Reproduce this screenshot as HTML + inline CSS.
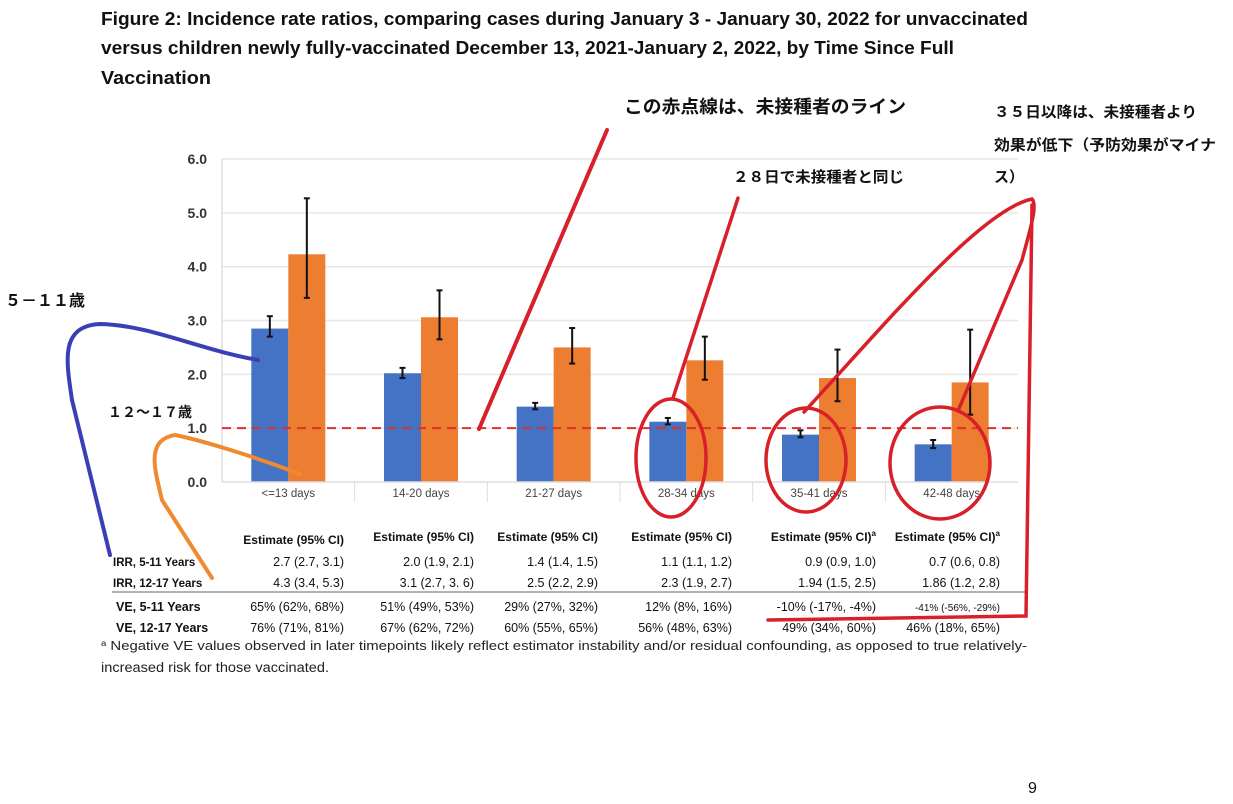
<!DOCTYPE html>
<html><head><meta charset="utf-8"><style>
body{margin:0;background:#fff;}
svg{display:block;font-family:"Liberation Sans","Noto Sans CJK JP",sans-serif;}
</style></head><body>
<svg id="chart" width="1233" height="804" viewBox="0 0 1233 804">
<g font-weight="bold" font-size="18.5" fill="#111">
<text x="101" y="25" textLength="927" lengthAdjust="spacingAndGlyphs">Figure 2:  Incidence rate ratios, comparing cases during January 3 - January 30, 2022 for unvaccinated</text>
<text x="101" y="54" textLength="853" lengthAdjust="spacingAndGlyphs">versus children newly fully-vaccinated December 13, 2021-January 2, 2022, by Time Since Full</text>
<text x="101" y="84" textLength="110" lengthAdjust="spacingAndGlyphs">Vaccination</text>
</g>
<g id="grid"></g>
<g id="yaxis"></g>
<g id="bars"></g>
<g id="xaxis"></g>
<line id="refline" stroke="#e0302a" stroke-width="2" stroke-dasharray="9,6"/>
<g id="table" font-size="12" fill="#111"></g>
<g font-size="12.5" fill="#222">
<text x="101" y="650" textLength="926" lengthAdjust="spacingAndGlyphs"><tspan font-size="8" dy="-4">a</tspan><tspan dy="4"> Negative VE values observed in later timepoints likely reflect estimator instability and/or residual confounding, as opposed to true relatively-</tspan></text>
<text x="101" y="672" font-size="13.5" textLength="228" lengthAdjust="spacingAndGlyphs">increased risk for those vaccinated.</text>
</g>
<text x="1028" y="793" font-size="16" fill="#111">9</text>
<g font-weight="bold" font-size="15" fill="#111">
<text x="624" y="113" font-size="18" textLength="282" lengthAdjust="spacingAndGlyphs">この赤点線は、未接種者のライン</text>
<text x="994" y="117" font-size="15" textLength="203" lengthAdjust="spacingAndGlyphs">３５日以降は、未接種者より</text>
<text x="994" y="150" font-size="15" textLength="222" lengthAdjust="spacingAndGlyphs">効果が低下（予防効果がマイナ</text>
<text x="994" y="182" font-size="15">ス）</text>
<text x="733" y="182" font-size="15" textLength="171" lengthAdjust="spacingAndGlyphs">２８日で未接種者と同じ</text>
<text x="5" y="306" font-size="16">５－１１歳</text>
<text x="108" y="417" font-size="14">１２～１７歳</text>
</g>
<g fill="none" stroke-linecap="round">
<path d="M607 130 L479 429" stroke="#d8202a" stroke-width="4"/>
<path d="M738 198 L673 398" stroke="#d8202a" stroke-width="3.5"/>
<ellipse cx="671" cy="458" rx="35" ry="59" stroke="#d8202a" stroke-width="3.5"/>
<ellipse cx="806" cy="460" rx="40" ry="52" stroke="#d8202a" stroke-width="3.5"/>
<ellipse cx="940" cy="463" rx="50" ry="56" stroke="#d8202a" stroke-width="3.5"/>
<path d="M804 412 C880 330 980 210 1032 199 C1038 205 1030 230 1022 260 L958 411" stroke="#d8202a" stroke-width="3.5"/>
<path d="M1032 205 L1026 616 L768 620" stroke="#d8202a" stroke-width="3.5"/>
<path d="M258 360 C200 350 150 325 100 324 C60 326 66 360 72 400 L110 555" stroke="#3b3fb5" stroke-width="4"/>
<path d="M300 474 C250 455 200 440 175 435 C145 440 155 470 162 500 L212 578" stroke="#f08a30" stroke-width="4"/>
</g>
</svg>
<script>
const categories = ["<=13 days","14-20 days","21-27 days","28-34 days","35-41 days","42-48 days"];
const blueValues = [2.85,2.02,1.40,1.12,0.88,0.70];
const blueLow = [2.70,1.93,1.35,1.07,0.83,0.63];
const blueHigh = [3.08,2.12,1.47,1.19,0.96,0.78];
const orangeValues = [4.23,3.06,2.50,2.26,1.93,1.85];
const orangeLow = [3.42,2.65,2.20,1.90,1.50,1.25];
const orangeHigh = [5.27,3.56,2.86,2.70,2.46,2.83];
const yTicks = [0,1,2,3,4,5,6];
const yTickLabels = ["0.0","1.0","2.0","3.0","4.0","5.0","6.0"];
const refValue = 1.0;
const rowLabels = ["IRR, 5-11 Years","IRR, 12-17 Years","VE, 5-11 Years","VE, 12-17 Years"];
const headers = ["Estimate (95% CI)","Estimate (95% CI)","Estimate (95% CI)","Estimate (95% CI)","Estimate (95% CI)a","Estimate (95% CI)a"];
const row1 = ["2.7 (2.7, 3.1)","2.0 (1.9, 2.1)","1.4 (1.4, 1.5)","1.1 (1.1, 1.2)","0.9 (0.9, 1.0)","0.7 (0.6, 0.8)"];
const row2 = ["4.3 (3.4, 5.3)","3.1 (2.7, 3. 6)","2.5 (2.2, 2.9)","2.3 (1.9, 2.7)","1.94 (1.5, 2.5)","1.86 (1.2, 2.8)"];
const row3 = ["65% (62%, 68%)","51% (49%, 53%)","29% (27%, 32%)","12% (8%, 16%)","-10% (-17%, -4%)","-41% (-56%, -29%)"];
const row4 = ["76% (71%, 81%)","67% (62%, 72%)","60% (55%, 65%)","56% (48%, 63%)","49% (34%, 60%)","46% (18%, 65%)"];

const NS="http://www.w3.org/2000/svg";
const X0=222,X1=1018,Y0=482,Y6=159;
const gw=(X1-X0)/categories.length, bw=37;
const y=v=>Y0-(v/6)*(Y0-Y6);
const xc=i=>X0+gw*(i+0.5);
function mk(tag,attrs,parent){const e=document.createElementNS(NS,tag);for(const k in attrs)e.setAttribute(k,attrs[k]);parent.appendChild(e);return e;}
const grid=document.getElementById('grid'),ya=document.getElementById('yaxis'),bars=document.getElementById('bars'),xa=document.getElementById('xaxis'),tb=document.getElementById('table');
yTicks.forEach((t,i)=>{
 if(t>0){const g=mk('line',{x1:X0,x2:X1,y1:y(t),y2:y(t),stroke:'#e6e6e6','stroke-width':1.5},grid);
 
 }
 const l=mk('text',{x:207,y:y(t)+5,'text-anchor':'end','font-size':14,'font-weight':'bold',fill:'#333'},ya);
 
 
 l.textContent=yTickLabels[i];
});
mk('line',{x1:X0,x2:X0,y1:Y6,y2:Y0,stroke:'#ddd','stroke-width':1.5},ya);
mk('line',{x1:X0,x2:X1,y1:Y0,y2:Y0,stroke:'#ddd','stroke-width':1.5},xa);
function err(x,lo,hi){
 const g=mk('g',{stroke:'#111','stroke-width':2},bars);
 
 
 mk('line',{x1:x,x2:x,y1:y(lo),y2:y(hi)},g);
 mk('line',{x1:x-3,x2:x+3,y1:y(lo),y2:y(lo)},g);
 mk('line',{x1:x-3,x2:x+3,y1:y(hi),y2:y(hi)},g);
}
categories.forEach((c,i)=>{
 const cx=xc(i);
 const b=mk('rect',{x:cx-bw,y:y(blueValues[i]),width:bw,height:Y0-y(blueValues[i]),fill:'#4472c4'},bars);
 
 
 const o=mk('rect',{x:cx,y:y(orangeValues[i]),width:bw,height:Y0-y(orangeValues[i]),fill:'#ed7d31'},bars);
 
 
 err(cx-bw/2,blueLow[i],blueHigh[i]);
 err(cx+bw/2,orangeLow[i],orangeHigh[i]);
 const t=mk('text',{x:cx,y:497,'text-anchor':'middle','font-size':11.5,fill:'#444'},xa);
 
 
 t.textContent=c;
 if(i>0){mk('line',{x1:X0+gw*i,x2:X0+gw*i,y1:Y0,y2:502,stroke:'#ddd'},xa);}
});
const rl=document.getElementById('refline');
rl.setAttribute('x1',X0);rl.setAttribute('x2',X1);rl.setAttribute('y1',y(refValue));rl.setAttribute('y2',y(refValue));
const colR=[344,474,598,732,876,1000];
const rowsY=[566,587,611,632];
headers.forEach((h,i)=>{
 const t=mk('text',{x:colR[i],y:i==0?544:541,'text-anchor':'end','font-weight':'bold','font-size':12},tb);
 
 
 if(h.endsWith('a')){t.textContent=h.slice(0,-1);const s=mk('tspan',{'font-size':8,dy:-5},t);s.textContent='a';}
 else t.textContent=h;
});
[row1,row2,row3,row4].forEach((r,ri)=>{
 const lab=mk('text',{x:ri<2?113:116,y:rowsY[ri],'font-weight':'bold','font-size':ri<2?11.5:12.5},tb);
 
 
 lab.textContent=rowLabels[ri];
 r.forEach((v,ci)=>{
  const t=mk('text',{x:colR[ci],y:rowsY[ri],'text-anchor':'end','font-size':(ri==2&&ci==5)?10:12.5},tb);
  
  
  t.textContent=v;
 });
});
mk('line',{x1:112,x2:1025,y1:592,y2:592,stroke:'#999','stroke-width':1.5},tb);
</script>
</body></html>
